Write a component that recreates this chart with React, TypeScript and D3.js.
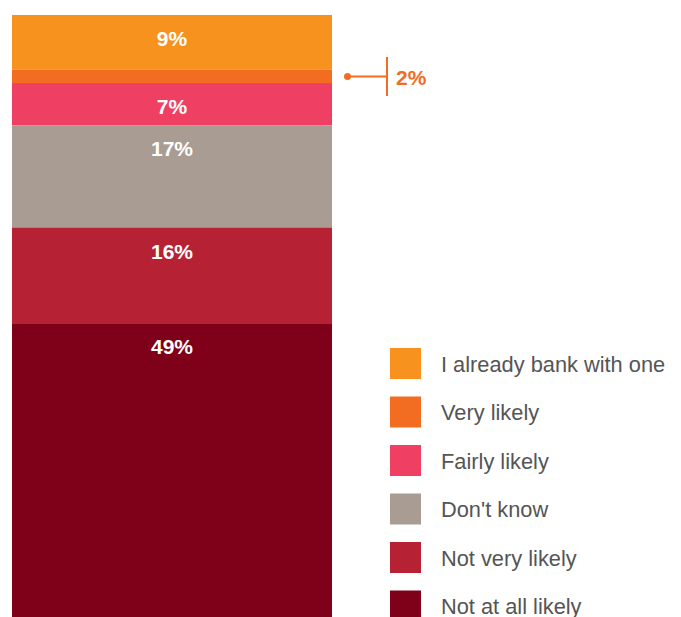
import React from "react";
import * as d3 from "d3";

const categories = [
  "I already bank with one",
  "Very likely",
  "Fairly likely",
  "Don't know",
  "Not very likely",
  "Not at all likely",
];
const values = [9.1, 2.2, 7.0, 17.0, 15.9, 48.8];
const labels = ["9%", "2%", "7%", "17%", "16%", "49%"];
const colors = ["#f7921f", "#f26c22", "#ef3f63", "#a89c93", "#b62234", "#7f0019"];
const showInside = [true, false, true, true, true, true];

const W = 681;
const H = 617;

export default function App() {
  const y = d3.scaleLinear().domain([0, 100]).range([15, 617]);
  const x = d3.scaleBand().domain(["all"]).range([12, 332]).padding(0);
  const bx = x("all") as number;
  const bw = x.bandwidth();
  let cum = 0;
  const segs = values.map((v, i) => {
    const s = { i, v, y0: y(cum), y1: y(cum + v) };
    cum += v;
    return s;
  });
  const small = segs[1];
  const smallMid = (small.y0 + small.y1) / 2;
  const font = "'Liberation Sans', Arial, Helvetica, sans-serif";
  const legendY = d3.scaleLinear().domain([0, 1]).range([348, 396.5]);

  return (
    <svg width={W} height={H} style={{ position: "absolute", left: 0, top: 0 }} fontFamily={font}>
      {segs.map((s) => (
        <rect key={s.i} x={bx} y={s.y0} width={bw} height={s.y1 - s.y0} fill={colors[s.i]} />
      ))}
      {segs.map((s) =>
        showInside[s.i] ? (
          <text
            key={"t" + s.i}
            x={bx + bw / 2}
            y={s.y0 + 31}
            textAnchor="middle"
            fill="#fff"
            fontWeight="bold"
            fontSize={21}
          >
            {labels[s.i]}
          </text>
        ) : null
      )}
      <g stroke={colors[1]} fill={colors[1]}>
        <circle cx={347.5} cy={smallMid} r={3.5} stroke="none" />
        <line x1={347.5} x2={387} y1={smallMid} y2={smallMid} strokeWidth={2} />
        <line x1={387} x2={387} y1={57} y2={96} strokeWidth={2} />
      </g>
      <text x={396} y={smallMid + 8.5} fill={colors[1]} fontWeight="bold" fontSize={21}>
        {labels[1]}
      </text>
      {categories.map((c, i) => (
        <g key={"l" + i}>
          <rect x={390} y={legendY(i)} width={31} height={31} fill={colors[i]} />
          <text x={441} y={legendY(i) + 23.5} fill="#555" fontSize={21.8}>
            {c}
          </text>
        </g>
      ))}
    </svg>
  );
}
